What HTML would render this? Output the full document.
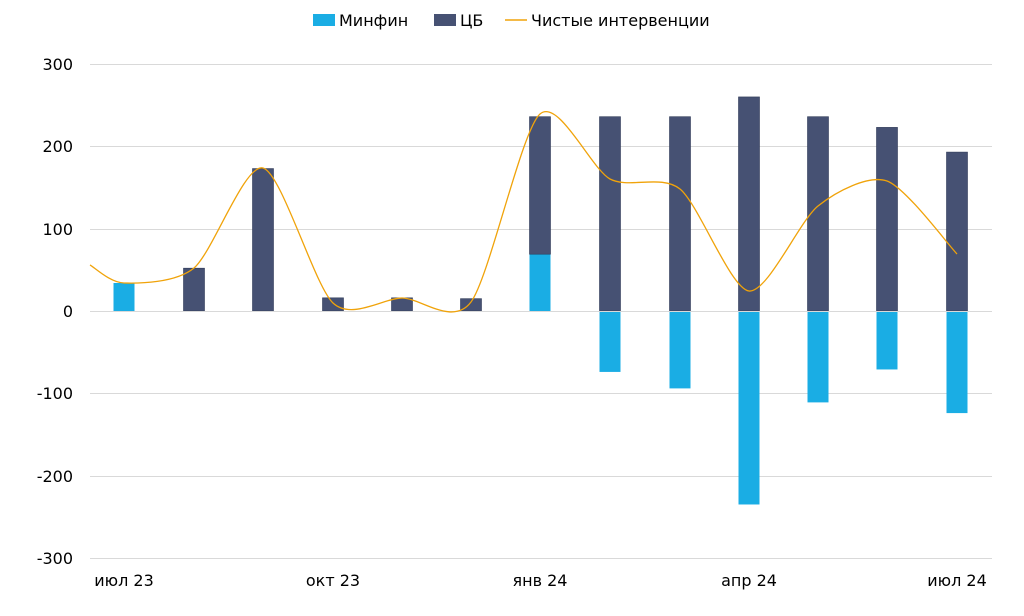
<!DOCTYPE html>
<html><head><meta charset="utf-8"><style>
body{margin:0;background:#fff;font-family:"Liberation Sans","DejaVu Sans",sans-serif;}
</style></head><body>
<svg width="1024" height="611" xmlns="http://www.w3.org/2000/svg" font-family="DejaVu Sans, Liberation Sans, sans-serif" font-size="16" fill="#000">
<g stroke="#d9d9d9" stroke-width="1">
<line x1="90" x2="992" y1="64.5" y2="64.5"/>
<line x1="90" x2="992" y1="146.5" y2="146.5"/>
<line x1="90" x2="992" y1="229.5" y2="229.5"/>
<line x1="90" x2="992" y1="393.5" y2="393.5"/>
<line x1="90" x2="992" y1="476.5" y2="476.5"/>
<line x1="90" x2="992" y1="558.5" y2="558.5"/>
</g>
<g text-anchor="end">
<text x="73" y="70">300</text><text x="73" y="152">200</text><text x="73" y="235">100</text>
<text x="73" y="317">0</text><text x="73" y="399">-100</text><text x="73" y="482">-200</text><text x="73" y="564">-300</text>
</g>
<g id="bars"></g>
<line x1="90" x2="992" y1="311.5" y2="311.5" stroke="#d9d9d9"/>
<path id="ln" fill="none" stroke="#f0a30a" stroke-width="1.3"/>
<g text-anchor="middle">
<text x="124" y="586">июл 23</text><text x="333" y="586">окт 23</text><text x="540" y="586">янв 24</text>
<text x="749" y="586">апр 24</text><text x="957" y="586">июл 24</text>
</g>
<rect x="313" y="14" width="22" height="12" fill="#1aade4"/><text x="339" y="26">Минфин</text>
<rect x="434" y="14" width="22" height="12" fill="#465173"/><text x="460" y="26">ЦБ</text>
<line x1="505" x2="527" y1="20" y2="20" stroke="#f0a30a" stroke-width="1.5"/><text x="531" y="26">Чистые интервенции</text>
</svg>
<script>
var k=247/300,z=311;
var xs=[124,194,263,333,402,471,540,610,680,749,818,887,957];
var mf=[34,0,0,0,0,0,69,-74,-94,-235,-111,-71,-124];
var cb=[0,52,173,16,16,15,167,236,236,260,236,223,193];
var g=document.getElementById('bars'),s='';
function r(x,y1,y2,c){var t=Math.min(y1,y2),h=Math.abs(y2-y1);s+='<rect x="'+(x-10.5)+'" y="'+t+'" width="21" height="'+h+'" fill="'+c+'" stroke="#2f3a57" stroke-width="'+(c=='#465173'?0.6:0)+'"/>';}
for(var i=0;i<13;i++){
 var m=mf[i],base=m>0?m:0;
 if(m) r(xs[i],z,z-m*k,'#1aade4');
 if(cb[i]) r(xs[i],z-base*k,z-(base+cb[i])*k,'#465173');
}
g.innerHTML=s;
var p=[[90,265],[124,283],[194,268],[263,168],[333,303],[402,298],[471,302],[540,114],[610,179],[680,189],[749,291],[818,206],[887,181],[957,254]];
var d='M'+p[0][0]+','+p[0][1];
for(var i=0;i<p.length-1;i++){
 var p0=p[Math.max(0,i-1)],p1=p[i],p2=p[i+1],p3=p[Math.min(p.length-1,i+2)];
 var f=7.5;
 var c1=[p1[0]+(p2[0]-p0[0])/f,p1[1]+(p2[1]-p0[1])/f],c2=[p2[0]-(p3[0]-p1[0])/f,p2[1]-(p3[1]-p1[1])/f];
 d+=' C'+c1+' '+c2+' '+p2;
}
document.getElementById('ln').setAttribute('d',d);
</script>
</body></html>
